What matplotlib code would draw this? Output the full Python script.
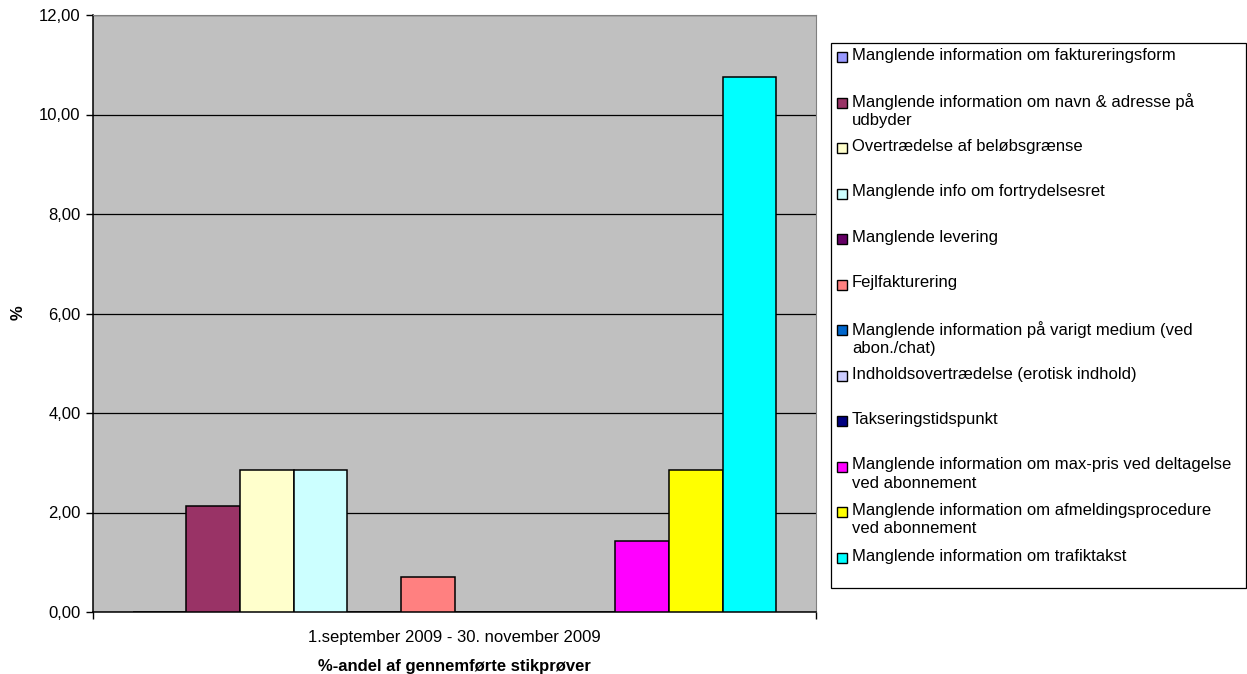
import matplotlib.pyplot as plt
from matplotlib.patches import Rectangle
from matplotlib.ticker import FuncFormatter, MultipleLocator

plt.rcParams['font.family'] = ['Liberation Sans', 'DejaVu Sans']

# andel i % pr. overtrædelsestype
categories = [
    'Manglende information om faktureringsform',
    'Manglende information om navn & adresse på\nudbyder',
    'Overtrædelse af beløbsgrænse',
    'Manglende info om fortrydelsesret',
    'Manglende levering',
    'Fejlfakturering',
    'Manglende information på varigt medium (ved\nabon./chat)',
    'Indholdsovertrædelse (erotisk indhold)',
    'Takseringstidspunkt',
    'Manglende information om max-pris ved deltagelse\nved abonnement',
    'Manglende information om afmeldingsprocedure\nved abonnement',
    'Manglende information om trafiktakst',
]
values = [0, 2.14, 2.86, 2.86, 0, 0.71, 0, 0, 0, 1.43, 2.86, 10.76]
colors = ['#9999FF', '#993366', '#FFFFCC', '#CCFFFF', '#660066', '#FF8080',
          '#0066CC', '#CCCCFF', '#000080', '#FF00FF', '#FFFF00', '#00FFFF']
period = '1.september 2009 - 30. november 2009'

W, H = 1247, 674
FS = 12
fig = plt.figure(figsize=(W / 100, H / 100), dpi=100)


def fx(px):
    return px / W


def fy(py):
    return 1 - py / H


ax = fig.add_axes([fx(93), fy(612), fx(816) - fx(93), fy(15) - fy(612)])
ax.set_facecolor('#C0C0C0')

n = len(values)
w = 0.0742
for i, (v, c) in enumerate(zip(values, colors)):
    ax.bar((i - (n - 1) / 2) * w, v, width=w, color=c, edgecolor='black',
           linewidth=1.1, zorder=3)

ax.set_xlim(-0.5, 0.5)
ax.set_ylim(0, 12)
ax.yaxis.set_major_locator(MultipleLocator(2))
ax.yaxis.set_major_formatter(FuncFormatter(lambda v, p: f'{v:.2f}'.replace('.', ',')))
ax.set_axisbelow(True)
ax.yaxis.grid(True, color='black', linewidth=0.9)

ax.set_xticks([0])
ax.set_xticklabels([period])
ax.set_xticks([-0.5, 0.5], minor=True)
ax.tick_params(axis='x', which='major', length=0, pad=13, labelsize=FS)
ax.tick_params(axis='x', which='minor', length=5, width=1, color='black')
ax.tick_params(axis='y', length=5, width=1, labelsize=FS, pad=4)

for side in ['top', 'right']:
    ax.spines[side].set_color('#808080')
for side in ['left', 'bottom']:
    ax.spines[side].set_color('black')
    ax.spines[side].set_linewidth(1.1)

fig.text(fx(18), fy(313), '%', rotation=90, fontsize=FS, fontweight='bold',
         ha='center', va='center')
fig.text(fx(454), fy(667), '%-andel af gennemførte stikprøver', fontsize=FS,
         fontweight='bold', ha='center', va='center')

# legend box drawn by hand so two-line labels keep the marker at the first line
fig.patches.append(Rectangle((fx(831), fy(588)), fx(1246) - fx(831), fy(43) - fy(588),
                             transform=fig.transFigure, facecolor='white',
                             edgecolor='black', linewidth=0.9))
for i, (lab, c) in enumerate(zip(categories, colors)):
    yc = 57 + i * 45.5
    fig.patches.append(Rectangle((fx(837), fy(yc + 5)), fx(10), 10 / H,
                                 transform=fig.transFigure, facecolor=c,
                                 edgecolor='black', linewidth=1.0))
    fig.text(fx(852), fy(yc - 9), lab, fontsize=FS, ha='left', va='top',
             linespacing=1.25)

fig.savefig('out.png', dpi=100)
